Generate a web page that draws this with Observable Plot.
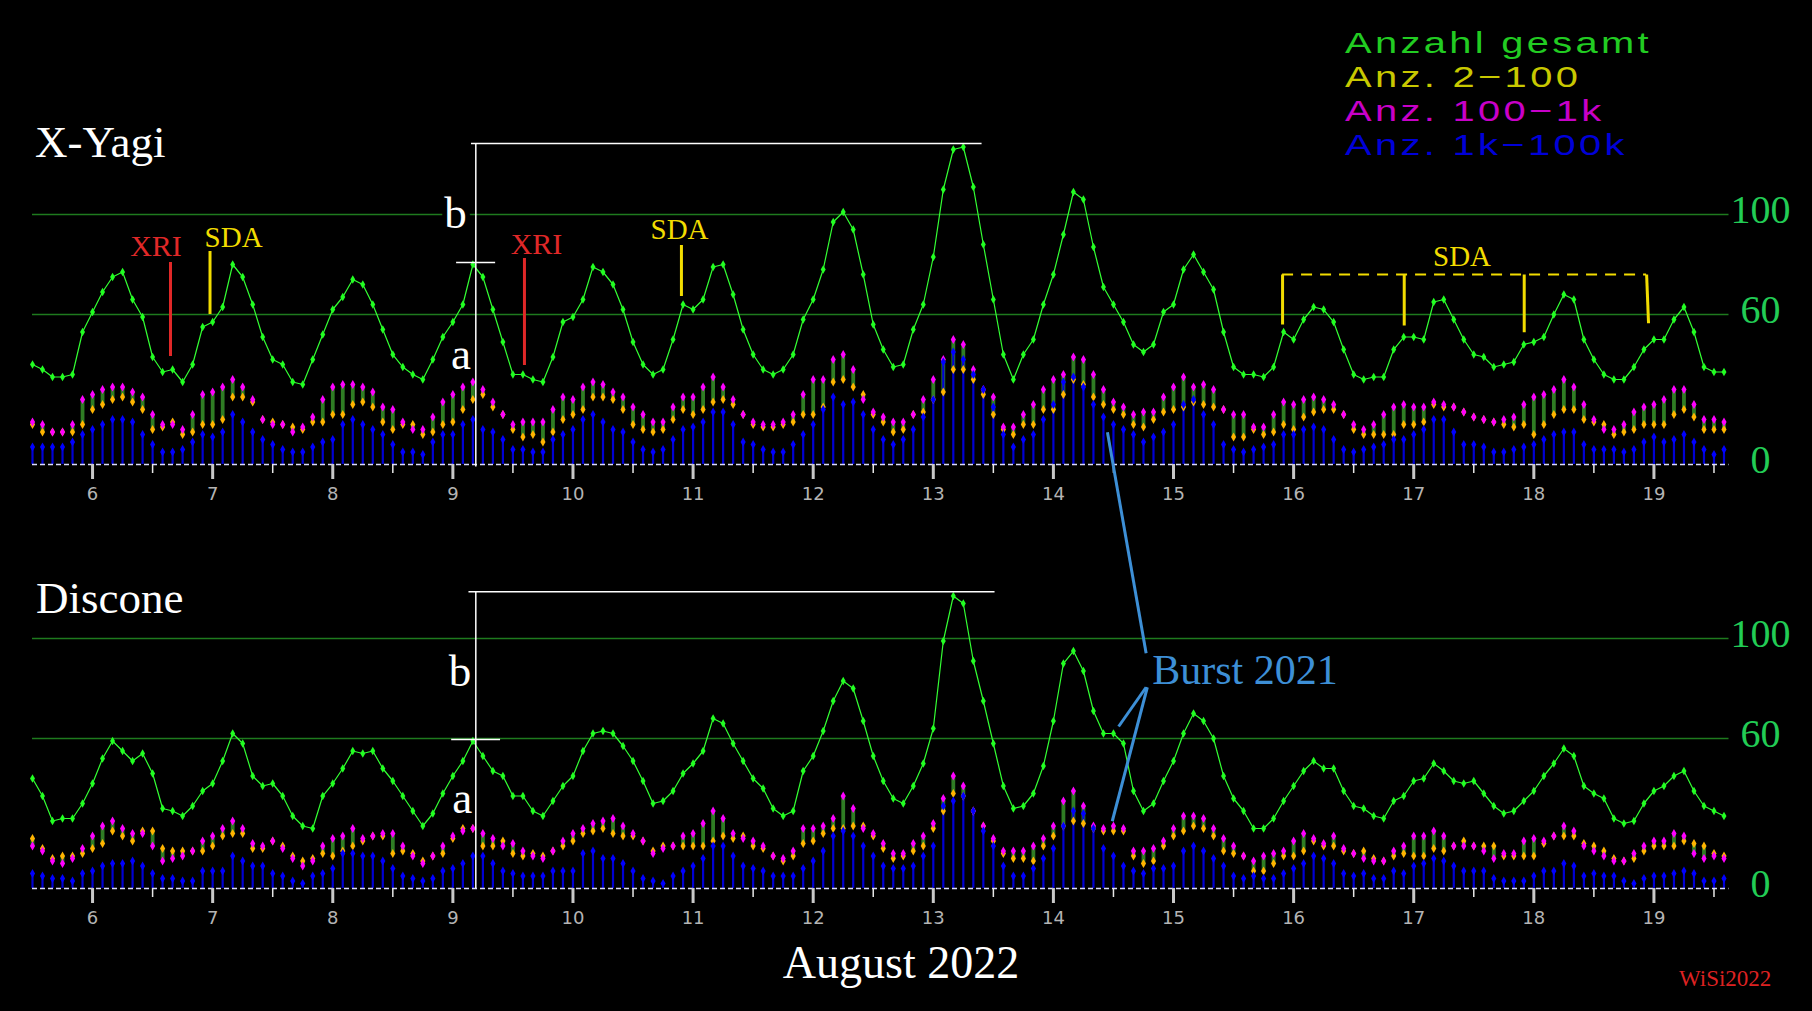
<!DOCTYPE html>
<html><head><meta charset="utf-8">
<script src="https://cdn.jsdelivr.net/npm/d3@7"></script>
<script src="https://cdn.jsdelivr.net/npm/@observablehq/plot@0.6"></script>
<style>
html,body{margin:0;padding:0;background:#000;}
#root{position:relative;width:1812px;height:1011px;background:#000;overflow:hidden;}
.panel{position:absolute;left:0;}
#overlay{position:absolute;left:0;top:0;pointer-events:none;}
</style></head><body><div id="root"></div>
<script>
// ---------- data: 2-hourly samples from Aug 5, 12:00 ----------
const startDay = 5.5;
const hoursPerStep = 2;

const yagiTotal = [40,38,35,35,36,53,61,
 69,75,77,66,59,43,37,38,33,40,55,57,
 63,80,75,64,51,42,40,33,32,42,52,62,
 67,74,72,64,54,44,39,36,34,42,51,57,
 64,80,75,62,49,36,36,34,33,43,57,59,
 66,79,77,72,62,49,40,36,38,50,64,62,
 66,79,80,68,54,44,38,36,38,44,58,66,
 78,97,101,94,76,56,46,39,40,54,64,83,
 110,126,127,111,88,66,44,34,44,50,64,76,
 92,109,106,87,71,64,57,48,45,48,61,64,
 78,84,77,70,53,39,36,36,35,39,53,50,
 58,63,62,57,46,36,34,35,35,46,51,51,
 50,65,66,58,50,44,43,39,40,41,48,49,
 51,60,68,66,50,42,36,34,34,39,46,50,
 50,58,63,53,39,37,37];
const yagi2to100 = [16,13,13,13,13,16,22,
 24,26,27,25,22,14,15,17,12,13,16,16,
 18,27,27,25,18,17,16,15,14,17,17,20,
 20,24,25,23,17,14,16,16,12,13,16,17,
 22,26,28,23,20,14,11,12,9,13,18,20,
 22,27,27,26,22,16,14,13,14,18,22,20,
 22,25,26,24,20,16,15,15,16,17,20,20,
 23,33,34,31,28,20,17,13,14,20,21,26,
 29,38,38,34,28,20,14,12,16,16,22,22,
 28,34,32,27,24,22,20,16,15,18,21,22,
 23,25,24,23,22,11,11,14,12,13,16,14,
 19,21,22,22,20,14,12,12,12,12,16,16,
 17,24,23,23,21,19,18,17,16,15,16,12,
 16,20,22,22,18,17,16,12,13,14,16,16,
 16,20,22,19,14,14,14];
const yagi100to1k = [17,16,13,13,16,26,28,
 30,31,31,29,27,20,16,16,14,20,28,29,
 31,34,31,26,18,16,16,13,15,19,26,31,
 32,32,31,29,23,22,17,14,14,19,25,28,
 31,33,30,25,20,16,17,17,17,22,27,26,
 31,33,32,29,27,23,20,17,17,23,27,27,
 31,35,31,26,20,17,16,16,17,20,28,34,
 34,42,44,38,26,21,19,17,17,20,26,34,
 42,50,48,38,30,27,15,15,20,24,30,34,
 36,43,42,36,30,25,23,20,21,21,27,31,
 35,31,32,30,22,20,20,15,15,20,25,24,
 26,27,26,24,20,16,14,16,20,23,24,23,
 23,25,24,23,21,19,18,17,18,19,24,27,
 28,30,34,31,24,18,14,14,16,21,23,24,
 26,30,30,24,18,18,17];
const yagi1kto100k = [7,7,7,7,9,12,14,
 16,18,18,17,12,8,5,5,6,9,12,11,
 13,20,17,13,10,8,6,5,5,7,9,10,
 16,18,16,14,12,8,5,5,4,9,12,12,
 16,18,14,13,10,6,6,5,5,10,12,14,
 18,20,17,14,13,9,6,5,6,10,14,15,
 17,21,21,16,9,8,6,5,5,8,12,16,
 22,27,24,25,20,14,10,8,10,14,19,26,
 41,45,42,36,30,23,12,7,10,12,18,24,
 33,35,31,24,19,16,14,12,9,11,13,16,
 24,26,20,16,8,6,5,6,7,8,12,12,
 14,15,14,10,6,5,6,7,8,10,10,12,
 14,18,18,13,8,8,7,5,5,6,7,8,
 10,12,13,13,8,6,6,6,5,6,9,11,
 9,10,12,9,6,4,6];

const disconeTotal = [44,37,27,28,28,34,42,
 52,59,55,51,54,46,32,31,29,33,39,42,
 51,62,58,45,41,42,37,29,25,24,37,42,
 48,55,54,55,48,43,37,31,25,30,38,45,
 51,59,53,47,45,37,37,31,29,35,41,45,
 55,62,63,62,57,51,43,34,35,39,46,50,
 55,68,66,58,51,44,40,32,29,31,47,53,
 63,75,83,80,67,53,43,36,34,41,50,64,
 99,117,114,91,75,58,41,32,33,38,49,67,
 90,95,87,71,62,62,58,39,31,34,43,51,
 62,70,67,60,45,36,31,24,24,28,35,41,
 47,51,48,48,39,33,32,29,28,35,37,43,
 44,50,47,43,42,43,38,33,30,31,35,39,
 45,50,56,53,41,38,36,28,26,27,34,39,
 41,45,47,39,33,31,29];
const discone2to100 = [20,16,12,13,13,14,16,
 18,23,21,19,23,23,16,15,15,15,15,17,
 21,22,22,16,16,19,17,13,11,12,14,13,
 15,17,19,21,21,14,15,14,11,13,14,20,
 24,24,17,17,19,14,13,14,13,15,17,19,
 22,23,24,22,21,21,19,15,17,17,17,17,
 17,19,21,20,21,17,16,13,11,13,18,19,
 22,24,24,25,25,21,16,12,13,15,17,24,
 31,38,37,31,25,19,14,12,12,11,17,21,
 25,27,26,24,23,23,23,13,10,11,17,21,
 23,25,24,21,15,14,13,7,7,10,13,13,
 15,19,17,17,15,14,15,12,11,13,14,13,
 13,16,15,17,19,17,17,17,13,13,13,13,
 18,21,21,21,18,17,15,12,11,12,15,17,
 17,17,19,18,17,14,13];
const discone100to1k = [17,15,11,10,12,16,21,
 25,27,24,22,22,17,11,12,13,15,19,21,
 24,27,24,18,17,19,16,12,9,11,17,20,
 21,24,20,21,22,22,17,13,10,13,17,21,
 23,24,22,20,17,18,15,13,12,15,19,22,
 24,26,27,28,25,22,19,14,16,17,21,22,
 26,31,28,22,20,19,17,13,12,15,24,24,
 25,28,37,32,24,22,18,14,14,18,21,26,
 36,45,41,31,25,20,15,15,15,17,20,25,
 35,39,33,25,24,25,24,15,15,16,19,24,
 29,29,28,24,20,17,13,11,13,14,15,19,
 22,20,18,21,16,14,12,11,11,15,17,21,
 21,23,21,17,17,17,15,12,14,14,19,20,
 19,21,25,23,17,15,13,11,11,14,17,19,
 19,22,21,14,12,13,12];
const discone1kto100k = [6,5,4,4,3,6,7,
 9,10,10,11,9,6,4,4,3,3,7,7,
 7,13,11,9,9,6,5,3,2,5,6,8,
 14,14,13,13,11,8,5,4,3,4,7,8,
 10,13,13,10,7,6,5,5,5,7,7,7,
 14,15,12,12,10,7,4,3,2,5,7,9,
 12,17,17,13,9,8,7,5,5,5,8,11,
 15,21,23,21,17,13,9,8,8,9,13,17,
 33,35,37,31,23,17,9,5,5,8,12,16,
 25,31,30,24,16,13,9,7,6,8,8,9,
 15,17,15,12,9,5,4,5,4,4,6,8,
 10,13,12,10,6,5,6,4,4,7,6,9,
 10,12,11,9,7,7,7,4,3,3,3,5,
 7,7,10,9,5,6,5,5,3,2,4,5,
 5,6,7,6,3,3,4];

const dayTicks = [6,7,8,9,10,11,12,13,14,15,16,17,18,19];
const halfDayTicks = [6.5,7.5,8.5,9.5,10.5,11.5,12.5,13.5,14.5,15.5,16.5,17.5,18.5,19.5];
const gridValues = [60, 100];
const valueLabels = [0, 60, 100];
const legendLabels = ["Anzahl gesamt", "Anz. 2\u2212100", "Anz. 100\u22121k", "Anz. 1k\u2212100k"];

// ---------- build ----------
function buildRows(total, a, b, c) {
  return total.map((v, i) => ({t: startDay + i * hoursPerStep / 24, total: v, n2: a[i], n100: b[i], n1k: c[i]}));
}
const yagiRows = buildRows(yagiTotal, yagi2to100, yagi100to1k, yagi1kto100k);
const disRows = buildRows(disconeTotal, discone2to100, discone100to1k, discone1kto100k);

const SERIF = "Liberation Serif, Times New Roman, serif";
const W = 1812;

function panel(rows, notes) {
  return Plot.plot({
    width: W, height: 514,
    marginLeft: 32, marginRight: 83.5, marginTop: 114, marginBottom: 50,
    x: {domain: [5.5, 19.625]},
    y: {domain: [0, 140], axis: null},
    style: {background: "transparent", color: "#fff", overflow: "visible"},
    marks: [
      Plot.ruleY(gridValues, {stroke: "#1e7a1e", strokeWidth: 1.6}),
      Plot.ruleX(rows, {x: "t", y1: "n2", y2: "n100", stroke: "#2f7d24", strokeWidth: 3.8}),
      Plot.ruleX(rows, {x: "t", y1: () => 0, y2: "n1k", stroke: "#0000d4", strokeWidth: 2.2}),
      Plot.ruleY([0], {stroke: "#dcdcff", strokeWidth: 1.3, strokeDasharray: "5,3"}),
      Plot.axisX(dayTicks, {tickSize: 15, stroke: "#c8c8c8", strokeWidth: 3, tickPadding: 8,
        fontSize: 18, fontFamily: "DejaVu Sans, sans-serif", fill: "#b4b4b4", tickFormat: d => String(d), label: null}),
      Plot.axisX(halfDayTicks, {tickSize: 9, stroke: "#e6e6e6", strokeWidth: 1.5, tickFormat: () => "", label: null}),
      Plot.line(rows, {x: "t", y: "total", stroke: "#33ff33", strokeWidth: 1.2}),
      Plot.dot(rows, {x: "t", y: "total", r: 2.6, symbol: "diamond", fill: "#22ff22"}),
      Plot.dot(rows, {x: "t", y: "n2", r: 2.7, symbol: "diamond", fill: "#ffb400"}),
      Plot.dot(rows, {x: "t", y: "n100", r: 2.7, symbol: "diamond", fill: "#ff00ff"}),
      Plot.dot(rows, {x: "t", y: "n1k", r: 2.7, symbol: "diamond", fill: "#0000ff"}),
      Plot.text(valueLabels, {y: d => d, text: d => String(d), frameAnchor: "right", dx: 31.5, dy: -4,
        textAnchor: "middle", fontSize: 40, fontFamily: SERIF, fill: "#22cc55"}),
      ...notes
    ]
  });
}

const RED = "#e02828", YEL = "#f2dc00", BLUEA = "#3d8fd6";
function label(x, y, text, fill, size, extra = {}) {
  return Plot.text([0], {x: () => x, y: () => y, text: () => text, fill, fontSize: size,
    fontFamily: SERIF, textAnchor: "middle", lineAnchor: "bottom", ...extra});
}

// annotations (data coordinates: day, count)
const yagiNotes = [
  Plot.ruleX([6.649], {y1: 80.8, y2: 43.2, stroke: RED, strokeWidth: 3}),
  label(6.528, 83.6, "XRI", RED, 30),
  Plot.ruleX([9.596], {y1: 82.4, y2: 39.6, stroke: RED, strokeWidth: 3}),
  label(9.696, 84.4, "XRI", RED, 30),
  Plot.ruleX([6.978], {y1: 85.2, y2: 60, stroke: YEL, strokeWidth: 3}),
  label(7.174, 87.2, "SDA", YEL, 29),
  Plot.ruleX([10.903], {y1: 87.6, y2: 67.2, stroke: YEL, strokeWidth: 3}),
  label(10.887, 90.4, "SDA", YEL, 29),
  Plot.ruleY([76], {x1: 15.908, x2: 18.939, stroke: YEL, strokeWidth: 2, strokeDasharray: "11,8"}),
  Plot.link([[15.908, 56], [16.921, 55.6], [17.92, 52.9], [18.955, 56.5]],
    {x1: (d, i) => [15.908, 16.921, 17.92, 18.939][i], y1: () => 76, x2: d => d[0], y2: d => d[1], stroke: YEL, strokeWidth: 3}),
  label(17.402, 79.6, "SDA", YEL, 29),
  Plot.ruleX([9.191], {y1: -1, y2: 128.4, stroke: "#fff", strokeWidth: 1.5}),
  Plot.ruleY([128.4], {x1: 9.155, x2: 13.406, stroke: "#fff", strokeWidth: 1.5}),
  Plot.ruleY([80.8], {x1: 9.031, x2: 9.356, stroke: "#fff", strokeWidth: 1.5}),
  label(9.022, 94.8, "b", "#fff", 45, {stroke: "#000", strokeWidth: 10}),
  label(9.067, 38.4, "a", "#fff", 45)
];
const disNotes = [
  Plot.ruleX([9.191], {y1: 0, y2: 118.7, stroke: "#fff", strokeWidth: 1.5}),
  Plot.ruleY([118.7], {x1: 9.134, x2: 13.514, stroke: "#fff", strokeWidth: 1.5}),
  Plot.ruleY([59.6], {x1: 8.99, x2: 9.397, stroke: "#fff", strokeWidth: 1.5}),
  label(9.06, 80.9, "b", "#fff", 45),
  label(9.078, 30.3, "a", "#fff", 45),
  Plot.link([{a: 14.45, b: 182.5, c: 14.772, d: 94.1}, {a: 14.772, b: 80.5, c: 14.543, d: 64.8}, {a: 14.782, b: 80.5, c: 14.49, d: 26.9}],
    {x1: "a", y1: "b", x2: "c", y2: "d", stroke: BLUEA, strokeWidth: 3}),
  label(14.822, 82, "Burst 2021", BLUEA, 42, {textAnchor: "start"})
];

const root = document.getElementById("root");
const p1 = panel(yagiRows, yagiNotes);
p1.classList.add("panel"); p1.style.top = "0px";
root.appendChild(p1);
const p2 = panel(disRows, disNotes);
p2.classList.add("panel"); p2.style.top = "424px";
root.appendChild(p2);

// free text overlay
const svg = d3.select(root).append("svg").attr("id", "overlay").attr("width", W).attr("height", 1011);
function txt(x, y, s, opts) {
  const t = svg.append("text").attr("x", x).attr("y", y).text(s);
  for (const k in opts) t.attr(k, opts[k]);
  return t;
}
txt(35, 157, "X-Yagi", {fill: "#fff", "font-family": SERIF, "font-size": 45});
txt(36, 613, "Discone", {fill: "#fff", "font-family": SERIF, "font-size": 45});
txt(901, 978, "August 2022", {fill: "#fff", "font-family": SERIF, "font-size": 46, "text-anchor": "middle"});
txt(1679, 986, "WiSi2022", {fill: "#dd2222", "font-family": SERIF, "font-size": 23});
// legend: four lines, horizontally stretched to the wide stroke font of the original
const legendColors = ["#22cc22", "#c8c800", "#c800c8", "#0000d8"];
const lg = svg.append("g").attr("transform", "translate(1345,0) scale(1.33,1)");
legendLabels.forEach((s, i) => {
  lg.append("text").attr("x", 0).attr("y", 53 + i * 34)
    .attr("font-family", "Liberation Sans, Arial, sans-serif").attr("font-size", 30)
    .attr("letter-spacing", 2.5).attr("fill", legendColors[i]).text(s);
});
</script></body></html>
